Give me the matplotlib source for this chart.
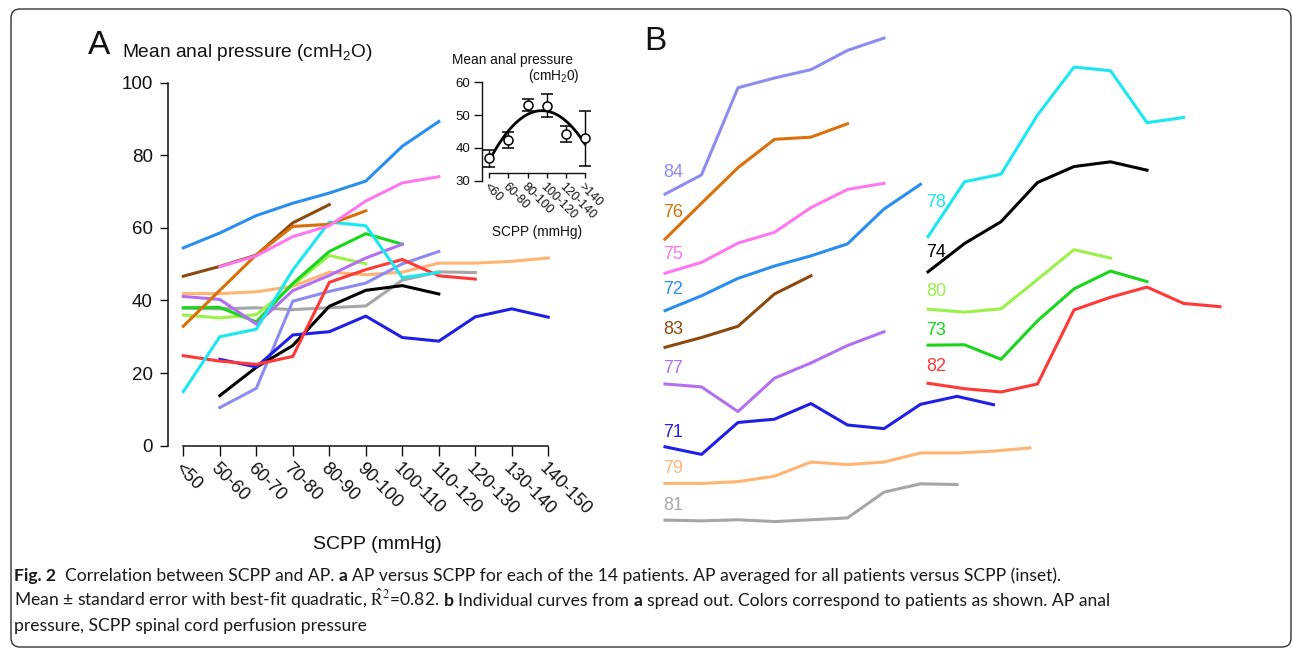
import numpy as np
import matplotlib
matplotlib.use("Agg")
import matplotlib.pyplot as plt
from matplotlib.patches import FancyBboxPatch
from matplotlib.transforms import IdentityTransform

W, H = 1293, 649

plt.rcParams["font.family"] = ["Liberation Sans", "DejaVu Sans"]
plt.rcParams["mathtext.fontset"] = "stix"

# SCPP bins (mmHg) used in panel A
categories = ["<50", "50-60", "60-70", "70-80", "80-90", "90-100",
              "100-110", "110-120", "120-130", "130-140", "140-150"]

# mean anal pressure (cmH2O) per patient, and the first SCPP bin of each series
ap_71 = [23.8, 21.7, 30.5, 31.4, 35.7, 29.8, 28.8, 35.5, 37.7, 35.4]
ap_72 = [54.5, 58.6, 63.4, 66.8, 69.6, 72.9, 82.5, 89.3]
ap_73 = [38.0, 38.1, 34.1, 44.7, 53.5, 58.4, 55.5]
ap_74 = [13.8, 21.6, 27.6, 38.4, 42.8, 44.1, 41.8]
ap_75 = [49.3, 52.3, 57.6, 60.6, 67.4, 72.4, 74.1]
ap_76 = [32.9, 42.8, 52.6, 60.4, 61.0, 64.7]
ap_77 = [41.1, 40.3, 33.5, 42.7, 46.9, 51.7, 55.5]
ap_78 = [14.9, 30.0, 32.1, 48.4, 61.6, 60.6, 46.3, 47.7]
ap_79 = [41.9, 41.9, 42.4, 43.9, 47.8, 47.1, 47.8, 50.3, 50.3, 50.8, 51.7]
ap_80 = [36.0, 35.2, 36.1, 44.2, 52.4, 50.1]
ap_81 = [37.9, 37.7, 38.0, 37.5, 38.0, 38.5, 45.6, 47.9, 47.7]
ap_82 = [24.8, 23.3, 22.4, 24.6, 45.0, 48.5, 51.3, 46.8, 45.9]
ap_83 = [46.7, 49.4, 52.5, 61.4, 66.4]
ap_84 = [10.5, 15.8, 39.8, 42.5, 44.8, 50.1, 53.5]

patients = ["79", "81", "80", "73", "77", "84", "74", "71", "82", "78",
            "83", "76", "75", "72"]
series = {"71": ap_71, "72": ap_72, "73": ap_73, "74": ap_74, "75": ap_75,
          "76": ap_76, "77": ap_77, "78": ap_78, "79": ap_79, "80": ap_80,
          "81": ap_81, "82": ap_82, "83": ap_83, "84": ap_84}
first_bin = {"71": 1, "72": 0, "73": 0, "74": 1, "75": 1, "76": 0, "77": 0,
             "78": 0, "79": 0, "80": 0, "81": 0, "82": 0, "83": 0, "84": 1}
colors = {"71": "#1f1fe6", "72": "#2a8ef0", "73": "#1ad61a", "74": "#000000",
          "75": "#ff77ee", "76": "#d9700a", "77": "#b36ff2", "78": "#1ae8ee",
          "79": "#ffb473", "80": "#9bf04a", "81": "#a6a6a6", "82": "#ff3838",
          "83": "#8b4a0e", "84": "#8c8cf0"}

# inset: AP averaged over all patients
inset_bins = ["<60", "60-80", "80-100", "100-120", "120-140", ">140"]
inset_mean = [36.8, 42.4, 53.1, 52.9, 44.2, 42.9]
inset_sem = [2.7, 2.4, 1.8, 3.5, 2.5, 8.3]

# panel B: two columns of spread-out curves, vertical shift in cmH2O,
# label offset above first point (px)
left_col = ["84", "76", "75", "72", "83", "77", "71", "79", "81"]
right_col = ["78", "74", "80", "73", "82"]
shift = {"84": 58.8, "76": 24.0, "75": -1.8, "72": -17.3, "83": -19.6,
         "77": -24.1, "71": -24.1, "79": -52.3, "81": -58.4,
         "78": 42.7, "74": 34.1, "80": 1.6, "73": -10.3, "82": -7.6}
label_up = {"84": 17, "76": 22, "75": 14, "72": 17, "83": 13, "77": 11,
            "71": 10, "79": 10, "81": 10, "78": 30, "74": 15, "80": 13,
            "73": 10, "82": 12}

fig = plt.figure(figsize=(W / 100, H / 100), dpi=100)


def rect(x0, y0, x1, y1):
    return [x0 / W, 1 - y1 / H, (x1 - x0) / W, (y1 - y0) / H]


def ftext(x, y, s, **kw):
    return fig.text(x / W, 1 - y / H, s, **kw)


INK = "#111111"
STEP = 36.5

# ---- panel A
X_FIRST = 183.3
axA = fig.add_axes(rect(168, 82.7, 560, 445.7))
for p in patients:
    vals = series[p]
    xs = np.arange(len(vals)) + first_bin[p]
    axA.plot(xs, vals, color=colors[p], lw=2.2, solid_joinstyle="miter",
             clip_on=False)
axA.set_xlim((168 - X_FIRST) / STEP, (560 - X_FIRST) / STEP)
axA.set_ylim(0, 100)
for s in ["top", "right"]:
    axA.spines[s].set_visible(False)
axA.spines["left"].set_bounds(0, 100)
axA.spines["bottom"].set_bounds(0, 10)
for s in ["left", "bottom"]:
    axA.spines[s].set_linewidth(1.1)
    axA.spines[s].set_color(INK)
axA.set_yticks([0, 20, 40, 60, 80, 100])
axA.set_xticks(range(len(categories)))
axA.set_xticklabels(categories, rotation=-45, ha="left", va="top",
                    rotation_mode="anchor")
axA.tick_params(axis="y", length=5.8, width=1.0, pad=5, labelsize=13.5,
                colors=INK)
axA.tick_params(axis="x", length=7.2, width=1.0, pad=3, labelsize=13,
                colors=INK)

ftext(88, 54, "A", fontsize=24, color=INK)
ftext(122, 57, "Mean anal pressure (cmH$\\mathregular{_2}$O)", fontsize=13.8,
      color=INK, va="baseline")
ftext(377, 549, "SCPP (mmHg)", fontsize=14, color=INK, ha="center",
      va="baseline")

# ---- inset
I_FIRST, I_STEP = 489.3, 19.1
axI = fig.add_axes(rect(481.7, 82.3, 592, 180.7))
xi = np.arange(len(inset_bins))
coef = np.polyfit(xi, inset_mean, 2)
xf = np.linspace(0, len(inset_bins) - 1, 100)
axI.plot(xf, np.polyval(coef, xf), color="black", lw=2.0, zorder=2)
axI.errorbar(xi, inset_mean, yerr=inset_sem, fmt="o", mfc="white",
             mec="black", mew=1.1, ms=6.5, ecolor="black", elinewidth=1.0,
             capsize=4, capthick=1.0, zorder=3)
axI.set_xlim((481.7 - I_FIRST) / I_STEP, (592 - I_FIRST) / I_STEP)
axI.set_ylim(30, 60)
axI.patch.set_alpha(0)
for s in ["top", "right"]:
    axI.spines[s].set_visible(False)
axI.spines["bottom"].set_position(("data", 32.2))
axI.spines["bottom"].set_bounds(0, len(inset_bins) - 1)
axI.spines["left"].set_bounds(30, 60)
for s in ["left", "bottom"]:
    axI.spines[s].set_linewidth(1.0)
    axI.spines[s].set_color(INK)
axI.set_yticks([30, 40, 50, 60])
axI.set_xticks(xi)
axI.set_xticklabels(inset_bins, rotation=-45, ha="left", va="top",
                    rotation_mode="anchor")
axI.tick_params(axis="y", length=6, width=1.0, pad=2, labelsize=9.5,
                colors=INK)
axI.tick_params(axis="x", length=3.5, width=1.0, pad=1.5, labelsize=9,
                colors=INK)
ftext(452, 64, "Mean anal pressure", fontsize=9.8, color=INK, va="baseline")
ftext(528, 80, "(cmH$\\mathregular{_2}$0)", fontsize=9.8, color=INK,
      va="baseline")
ftext(537, 236, "SCPP (mmHg)", fontsize=9.8, color=INK, ha="center",
      va="baseline")

# ---- panel B
ftext(644, 50, "B", fontsize=24, color=INK, va="baseline")


def spread(col, x_start, x_right):
    ax = fig.add_axes(rect(x_start - 20, 82.7, x_right, 445.7))
    ax.set_xlim(-20 / STEP, (x_right - x_start) / STEP)
    ax.set_ylim(0, 100)
    ax.axis("off")
    for p in col:
        vals = np.array(series[p]) + shift[p]
        ax.plot(np.arange(len(vals)), vals, color=colors[p], lw=2.2,
                clip_on=False)
        ax.annotate(p, (0, vals[0]), xytext=(-1.5, label_up[p] * 0.72),
                    textcoords="offset points", color=colors[p],
                    fontsize=13, ha="left", va="baseline",
                    annotation_clip=False)


spread(left_col, 665, 1060)
spread(right_col, 928, 1260)

# ---- caption
CAP = ["Lato", "DejaVu Sans"]
renderer = fig.canvas.get_renderer()


def text_width(s, size, weight):
    t = fig.text(0, 0, s, fontsize=size, fontweight=weight, family=CAP)
    w = t.get_window_extent(renderer).width
    t.remove()
    return w


def draw_runs(x, y, runs, size, draw=True):
    sp = text_width("x x", size, "normal") - text_width("xx", size, "normal")
    for txt, weight in runs:
        lead = len(txt) - len(txt.lstrip(" "))
        trail = len(txt) - len(txt.rstrip(" "))
        core = txt.strip(" ")
        x += lead * sp
        if draw:
            ftext(x, y, core, fontsize=size, fontweight=weight, family=CAP,
                  va="baseline", color="#1a1a1a")
        x += text_width(core, size, weight) + trail * sp
    return x


line1 = [("Fig. 2", "bold"),
         ("  Correlation between SCPP and AP. ", "normal"),
         ("a", "bold"),
         (" AP versus SCPP for each of the 14 patients. AP averaged for all "
          "patients versus SCPP (inset).", "normal")]
line2 = [("Mean \u00b1 standard error with best-fit quadratic, "
          "$\\hat{\\mathrm{R}}^2$=0.82. ", "normal"),
         ("b", "bold"),
         (" Individual curves from ", "normal"),
         ("a", "bold"),
         (" spread out. Colors correspond to patients as shown. AP anal",
          "normal")]
line3 = [("pressure, SCPP spinal cord perfusion pressure", "normal")]

w10 = draw_runs(0, 0, line1, 10, draw=False)
cap_size = 10 * 1043 / w10
draw_runs(14, 581, line1, cap_size)
draw_runs(14, 606, line2, cap_size)
draw_runs(14, 631, line3, cap_size)

# ---- frame
frame = FancyBboxPatch((11, H - 647), 1280, 638,
                       boxstyle="round,pad=0,rounding_size=9",
                       transform=IdentityTransform(), fill=False,
                       ec="#333333", lw=1.0)
fig.add_artist(frame)

fig.savefig("out.png", dpi=100)
